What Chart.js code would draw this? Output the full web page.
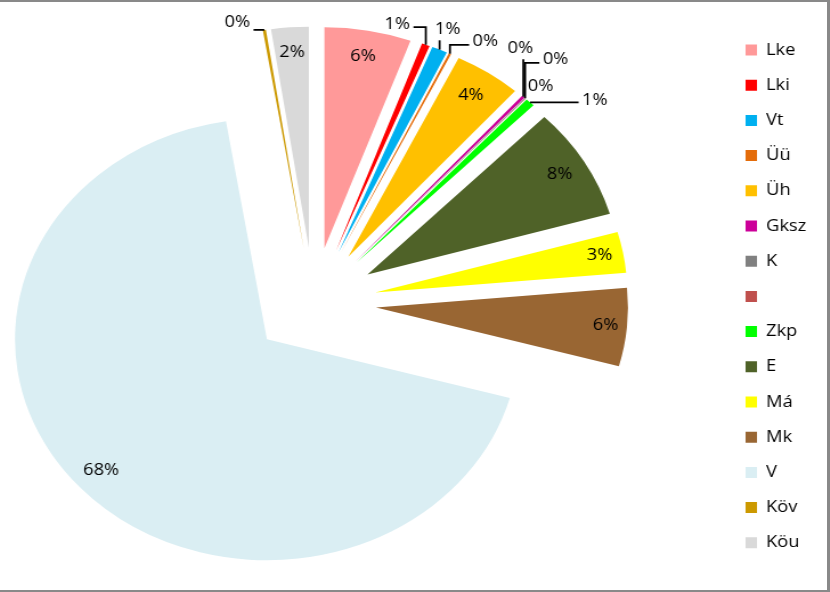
<!DOCTYPE html>
<html>
<head>
<meta charset="utf-8">
<script src="https://cdn.jsdelivr.net/npm/chart.js@4/dist/chart.umd.min.js"></script>
<style>
html,body{margin:0;padding:0;background:#fff;overflow:hidden;}
#stage{position:relative;width:830px;height:592px;overflow:hidden;background:#fff;}
#wrap{position:absolute;top:0;height:592px;transform-origin:0 0;}
#frame{position:absolute;left:0;top:0;width:830px;height:592px;box-sizing:border-box;border-top:2px solid #898989;border-right:3px solid #898989;border-bottom:2px solid #898989;pointer-events:none;}
</style>
</head>
<body>
<div id="stage">
  <div id="wrap"><canvas id="chart"></canvas></div>
  <div id="frame"></div>
</div>
<script>
// ---- data ----
const categories = ['Lke', 'Lki', 'Vt', 'Üü', 'Üh', 'Gksz', 'K', '', 'Zkp', 'E', 'Má', 'Mk', 'V', 'Köv', 'Köu'];
const values = [5.55, 0.51, 1.0, 0.15, 4.3, 0.2, 0.05, 0.02, 0.6, 8.2, 3.0, 5.7, 68.12, 0.2, 2.4];
const colors = ['#FF9999', '#FF0000', '#00B0F0', '#E46C0A', '#FFC000', '#CC0099', '#808080', '#C0504D',
                '#00FF00', '#4F6228', '#FFFF00', '#996633', '#DAEEF3', '#CC9900', '#D9D9D9'];

// ---- label placement (styles): r = inside label at fraction of radius; dx/dy = outside label offset from slice edge
const labelPlacement = [
  {r: 0.881},
  {dx: -25.0, dy: -20.6},
  {dx: 7.0, dy: -20.3},
  {dx: 31.0, dy: -12.0},
  {r: 0.877},
  {dx: -2.5, dy: -48.5},
  {dx: 26.7, dy: -38.3},
  {dx: 13.1, dy: -12.0, line: false},
  {dx: 56.7, dy: -2.3},
  {r: 0.887},
  {r: 0.906},
  {r: 0.915},
  {r: 0.885},
  {dx: -23.7, dy: -7.9},
  {r: 0.886}
];

// ---- layout constants (unstretched canvas units; page stretches horizontally) ----
const STRETCH = 1.140110;
const W = 728, H = 592;
const FONT = "'Open Sans', sans-serif";
const FS = 16;
const RADIUS = 221;
const EXPLODE = 55;
const CX = 275.1, CY = 302.5;
const LEG_PAD = 19.2, BOX_W = 10, BOX_H = 11, LEG_BOX_X = 654;
const total = values.reduce((a, b) => a + b, 0);

const legendLeft = LEG_BOX_X - LEG_PAD;
const SHIFT = Math.ceil(legendLeft - 2 * CX);      // extra canvas width hidden on the left
const CW = W + SHIFT;

const mctx = document.createElement('canvas').getContext('2d');
mctx.font = FS + 'px ' + FONT;
const maxTW = Math.max(...categories.map(t => mctx.measureText(t).width));
const legendW = LEG_PAD + BOX_W + FS / 2 + maxTW + 10;
const padRight = CW - (legendLeft + SHIFT) - legendW;
const padLeft = 2 * (CX + SHIFT) - (legendLeft + SHIFT);
const padTop = 50 - LEG_PAD - FS / 2;
const padBottom = H - (2 * CY - padTop);

const canvas = document.getElementById('chart');
canvas.width = CW;
canvas.height = H;
const wrap = document.getElementById('wrap');
wrap.style.width = CW + 'px';
wrap.style.left = (-SHIFT * STRETCH) + 'px';
wrap.style.transform = 'scaleX(' + STRETCH + ')';

// explode every slice outward along its bisector (pure translation of the library-drawn arc)
const explode = {
  id: 'explode',
  beforeDatasetsDraw(chart) {
    chart.getDatasetMeta(0).data.forEach(arc => {
      if (arc._exploded) return;
      const orig = arc.draw;
      arc.draw = function (ctx, area) {
        const mid = (this.startAngle + this.endAngle) / 2;
        ctx.save();
        ctx.translate(Math.cos(mid) * EXPLODE, Math.sin(mid) * EXPLODE);
        orig.call(this, ctx, area);
        ctx.restore();
      };
      arc._exploded = true;
    });
  }
};

function drawLeader(ctx, ax, ay, lx, ly, halfW) {
  const dx = lx - ax;
  ctx.beginPath();
  if (Math.abs(ly - ay) < 8) {
    ctx.moveTo(ax, ay);
    ctx.lineTo(lx - Math.sign(dx) * (halfW + 3), ay);
  } else if (Math.abs(dx) <= halfW) {
    ctx.moveTo(ax, ay);
    ctx.lineTo(ax, ly + 11);
  } else {
    const ey = ly + 3;
    ctx.moveTo(ax, ay);
    ctx.lineTo(ax, ey);
    ctx.lineTo(lx - Math.sign(dx) * (halfW + 3), ey);
  }
  ctx.stroke();
}

const pctLabels = {
  id: 'pctLabels',
  afterDatasetsDraw(chart) {
    const meta = chart.getDatasetMeta(0);
    const ctx = chart.ctx;
    ctx.save();
    ctx.font = FS + 'px ' + FONT;
    ctx.fillStyle = '#000';
    ctx.strokeStyle = '#000';
    ctx.lineWidth = 1.75;
    ctx.textAlign = 'center';
    ctx.textBaseline = 'middle';
    const leaders = [];
    meta.data.forEach((arc, i) => {
      const p = arc.getProps(['x', 'y', 'startAngle', 'endAngle', 'outerRadius'], true);
      const mid = (p.startAngle + p.endAngle) / 2;
      const ux = Math.cos(mid), uy = Math.sin(mid);
      const vx = p.x + ux * EXPLODE, vy = p.y + uy * EXPLODE;
      const txt = Math.round(values[i] / total * 100) + '%';
      const place = labelPlacement[i];
      let lx, ly;
      if (place.r !== undefined) {
        lx = vx + ux * p.outerRadius * place.r;
        ly = vy + uy * p.outerRadius * place.r;
      } else {
        const ax = vx + ux * p.outerRadius, ay = vy + uy * p.outerRadius;
        lx = ax + place.dx;
        ly = ay + place.dy;
        if (place.line !== false) {
          leaders.push([ax, ay, lx, ly, ctx.measureText(txt).width / 2]);
        }
      }
      ctx.fillText(txt, lx, ly);
    });
    leaders.forEach(l => drawLeader(ctx, ...l));
    ctx.restore();
  }
};

new Chart(canvas, {
  type: 'pie',
  data: {
    labels: categories,
    datasets: [{
      data: values,
      backgroundColor: colors,
      borderWidth: 0,
      radius: RADIUS,
      clip: false,
      offset: 0,
      hoverOffset: 0
    }]
  },
  options: {
    responsive: false,
    devicePixelRatio: 1,
    animation: false,
    layout: {padding: {left: padLeft, right: padRight, top: padTop, bottom: padBottom}},
    plugins: {
      legend: {
        position: 'right',
        align: 'start',
        labels: {boxWidth: BOX_W, boxHeight: BOX_H, padding: LEG_PAD, color: '#000', font: {size: FS, family: FONT}}
      },
      tooltip: {enabled: false}
    }
  },
  plugins: [explode, pctLabels]
});
</script>
</body>
</html>
